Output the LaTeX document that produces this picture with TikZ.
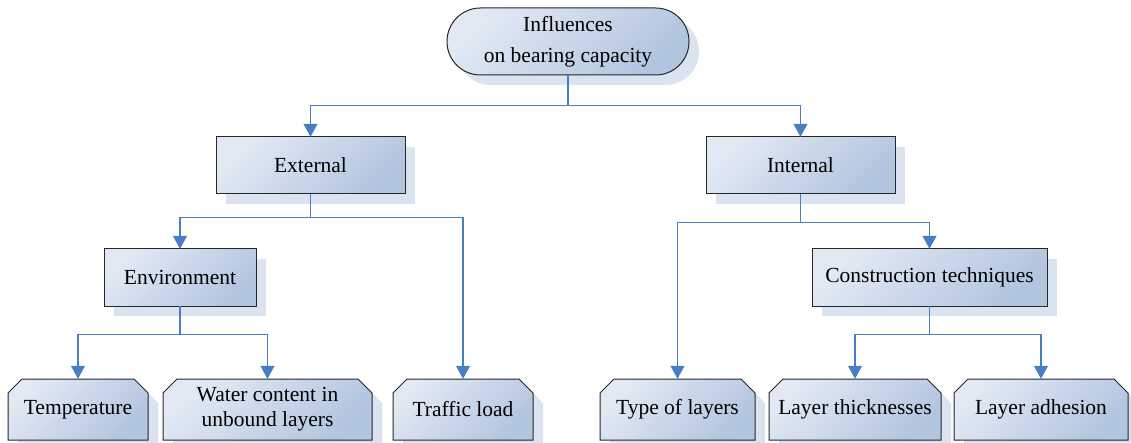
\documentclass[tikz,border=0pt]{standalone}
\usepackage{fontspec}
\setmainfont{Liberation Serif}
\usetikzlibrary{arrows.meta,calc}

\definecolor{linkblue}{HTML}{4A7EC4}
\definecolor{boxlight}{HTML}{E2E9F4}
\definecolor{boxdark}{HTML}{B2C5DF}
\definecolor{shadowtint}{HTML}{DAE3EF}
\definecolor{edgegrey}{HTML}{262626}

\tikzset{
  boxshape/.style={draw=edgegrey, line width=1pt, top color=boxlight, bottom color=boxdark, shading angle=45},
  boxshade/.style={fill=shadowtint},
  boxlabel/.style={inner sep=0pt, align=center, font=\fontsize{21.5}{25}\selectfont},
  link/.style={draw=linkblue, line width=1.1pt},
  linkarrow/.style={link, -{Triangle[width=14pt,length=13pt]}},
}

% plain box: name, left, top, right, bottom, text
\newcommand\flatbox[6]{%
  \path[boxshade] (#2+10,#3+10) rectangle (#4+10,#5+10);
  \path[boxshape] (#2,#3) rectangle (#4,#5);
  \node[boxlabel, minimum width=#4pt-#2pt, minimum height=#5pt-#3pt]
    (#1) at ({(#2+#4)/2},{(#3+#5)/2}) {#6};
}
% box with both upper corners cut off
\newcommand\cutbox[6]{%
  \path[boxshade] (#2+10,#5+10) -- (#2+10,#3+24) -- (#2+24,#3+10) -- (#4-4,#3+10)
     -- (#4+10,#3+24) -- (#4+10,#5+10) -- cycle;
  \path[boxshape] (#2,#5) -- (#2,#3+14) -- (#2+14,#3) -- (#4-14,#3)
     -- (#4,#3+14) -- (#4,#5) -- cycle;
  \node[boxlabel, minimum width=#4pt-#2pt, minimum height=#5pt-#3pt]
    (#1) at ({(#2+#4)/2},{(#3+#5)/2}) {#6};
}

\begin{document}
\begin{tikzpicture}[x=1pt, y=-1pt]
  \useasboundingbox (0,0) rectangle (1131,443);
  \clip (0,0) rectangle (1131,443);

  % root
  \path[boxshade, rounded corners=33.4pt] (457,18) rectangle (699,85);
  \path[boxshape, rounded corners=33.4pt] (447,8) rectangle (689,75);
  \node[boxlabel, font=\fontsize{21.5}{31}\selectfont, minimum width=242pt, minimum height=67pt]
    (root) at (568,41.5) {Influences\\on bearing capacity};

  % second level
  \flatbox{ext}{216}{137}{405}{194}{External}
  \flatbox{int}{706}{137}{895}{194}{Internal}

  % third level
  \flatbox{env}{104}{249}{256}{306}{Environment}
  \flatbox{tech}{812}{249}{1047}{306}{Construction techniques}

  % leaves
  \cutbox{temp}{8}{379}{148}{440}{Temperature}
  \cutbox{water}{163}{379}{372}{440}{Water content in\\unbound layers}
  \cutbox{traffic}{393}{379}{533}{440}{Traffic load}
  \cutbox{types}{600}{379}{755}{440}{Type of layers}
  \cutbox{thick}{769}{379}{941}{440}{Layer thicknesses}
  \cutbox{adhes}{954}{379}{1128}{440}{Layer adhesion}

  % connectors
  \draw[linkarrow] (root.south) -- ++(0,30) -| (ext.north);
  \draw[linkarrow] (root.south) -- ++(0,30) -| (int.north);

  \draw[linkarrow] (ext.south) -- ++(0,23) -| (env.north);
  \draw[linkarrow] (ext.south) -- ++(0,23) -| (traffic.north);

  \draw[linkarrow] (env.south) -- ++(0,28) -| (temp.north);
  \draw[linkarrow] (env.south) -- ++(0,28) -| (water.north);

  \draw[linkarrow] (int.south) -- ++(0,28) -| (types.north);
  \draw[linkarrow] (int.south) -- ++(0,28) -| (tech.north);

  \draw[linkarrow] (tech.south) -- ++(0,28) -| (thick.north);
  \draw[linkarrow] (tech.south) -- ++(0,28) -| (adhes.north);
\end{tikzpicture}
\end{document}
